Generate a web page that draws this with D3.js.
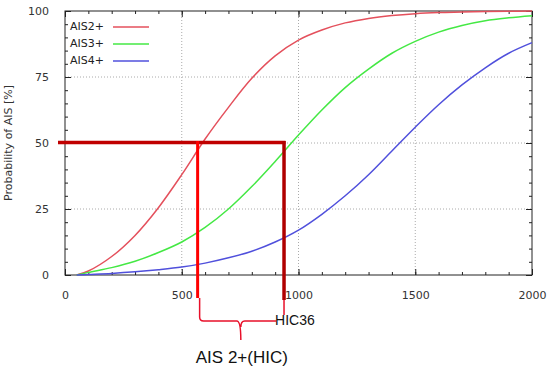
<!DOCTYPE html>
<html>
<head>
<meta charset="utf-8">
<script src="https://cdn.jsdelivr.net/npm/d3@7"></script>
<style>
  body { margin: 0; background: #fff; }
  text { font-family: "DejaVu Sans", sans-serif; }
</style>
</head>
<body>
<script>
// data
var hic = [0, 50, 100, 200, 300, 400, 500, 600, 700, 800, 900, 1000, 1100, 1200, 1300, 1400, 1500, 1600, 1700, 1800, 1900, 2000];
var ais2 = [0, 0, 1.5, 7, 15, 25.5, 38, 51.5, 63.5, 74.5, 83, 89, 92.8, 95.5, 97.2, 98.3, 99, 99.4, 99.6, 99.8, 99.9, 100];
var ais3 = [0, 0, 1, 2.8, 5.2, 8.5, 12.5, 18, 25, 33.5, 43, 53, 62.5, 71, 78, 84, 88.5, 92, 94.5, 96.3, 97.4, 98.2];
var ais4 = [0, 0, 0.2, 0.6, 1.2, 2, 3, 4.5, 6.5, 9, 12.5, 17, 23, 30, 38, 47, 56, 64.5, 72, 78.5, 84, 88];
var seriesNames = ["AIS2+", "AIS3+", "AIS4+"];
var xTicks = [0, 500, 1000, 1500, 2000];
var yTicks = [0, 25, 50, 75, 100];

// annotation values
var probLevel = 50;
var hicAis2 = 568;
var hicAis3 = 938;

// set the dimensions and margins of the graph
var margin = {top: 11, right: 15, bottom: 96, left: 65},
    width = 547 - margin.left - margin.right,
    height = 371 - margin.top - margin.bottom;

var svgRoot = d3.select("body")
  .append("svg")
    .attr("width", 547)
    .attr("height", 371);

var svg = svgRoot.append("g")
    .attr("transform", "translate(" + margin.left + "," + margin.top + ")");

var x = d3.scaleLinear().domain([0, 2000]).range([0, width]);
var y = d3.scaleLinear().domain([0, 100]).range([height, 0]);

var myColor = d3.scaleOrdinal()
  .domain(seriesNames)
  .range(["#e4505c", "#44e844", "#5050dc"]);

// grid
svg.append("g")
  .selectAll("line")
  .data(xTicks.slice(1, -1))
  .enter()
  .append("line")
    .attr("x1", function(d) { return x(d); })
    .attr("x2", function(d) { return x(d); })
    .attr("y1", 0)
    .attr("y2", height)
    .attr("stroke", "#aaa")
    .attr("stroke-dasharray", "1,2");
svg.append("g")
  .selectAll("line")
  .data(yTicks.slice(1, -1))
  .enter()
  .append("line")
    .attr("x1", 0)
    .attr("x2", width)
    .attr("y1", function(d) { return y(d); })
    .attr("y2", function(d) { return y(d); })
    .attr("stroke", "#aaa")
    .attr("stroke-dasharray", "1,2");

// axes, ticks pointing inwards, mirrored on all four sides
var xMinor = d3.range(0, 2001, 100);
var yMinor = d3.range(0, 101, 5);

function styleAxis(g) {
  g.select(".domain").remove();
  g.selectAll("line").attr("stroke", "#222");
  g.selectAll("text").attr("fill", "#333").style("font-size", "11px");
}

svg.append("g")
  .attr("transform", "translate(0," + height + ")")
  .call(d3.axisBottom(x).tickValues(xMinor).tickSize(-3).tickFormat(""))
  .call(styleAxis);
svg.append("g")
  .attr("transform", "translate(0," + height + ")")
  .call(d3.axisBottom(x).tickValues(xTicks).tickSize(-6).tickPadding(16).tickFormat(d3.format("d")))
  .call(styleAxis);
svg.append("g")
  .call(d3.axisTop(x).tickValues(xMinor).tickSize(-3).tickFormat(""))
  .call(styleAxis);
svg.append("g")
  .call(d3.axisTop(x).tickValues(xTicks).tickSize(-6).tickFormat(""))
  .call(styleAxis);

svg.append("g")
  .call(d3.axisLeft(y).tickValues(yMinor).tickSize(-3).tickFormat(""))
  .call(styleAxis);
svg.append("g")
  .call(d3.axisLeft(y).tickValues(yTicks).tickSize(-6).tickPadding(16).tickFormat(d3.format("d")))
  .call(styleAxis);
svg.append("g")
  .attr("transform", "translate(" + width + ",0)")
  .call(d3.axisRight(y).tickValues(yMinor).tickSize(-3).tickFormat(""))
  .call(styleAxis);
svg.append("g")
  .attr("transform", "translate(" + width + ",0)")
  .call(d3.axisRight(y).tickValues(yTicks).tickSize(-6).tickFormat(""))
  .call(styleAxis);

// frame
svg.append("rect")
  .attr("width", width)
  .attr("height", height)
  .attr("fill", "none")
  .attr("stroke", "#222");

// y title
svg.append("text")
  .attr("transform", "translate(-53," + (height / 2) + ") rotate(-90)")
  .attr("text-anchor", "middle")
  .attr("fill", "#333")
  .style("font-size", "11px")
  .text("Probability of AIS [%]");

// curves
var line = d3.line()
  .x(function(d) { return x(d[0]); })
  .y(function(d) { return y(d[1]); })
  .curve(d3.curveCatmullRom.alpha(0.5));

var allSeries = [ais2, ais3, ais4];
allSeries.forEach(function(vals, i) {
  var pts = hic.map(function(h, j) { return [h, vals[j]]; }).filter(function(p) { return p[0] >= 50; });
  svg.append("path")
    .datum(pts)
    .attr("fill", "none")
    .attr("stroke", myColor(seriesNames[i]))
    .attr("stroke-width", 1.5)
    .attr("d", line);
});

// legend
var size = 17;
svg.selectAll("mylabels")
  .data(seriesNames)
  .enter()
  .append("text")
    .attr("x", 5)
    .attr("y", function(d, i) { return 16 + i * size; })
    .attr("fill", "#222")
    .style("font-size", "11px")
    .style("dominant-baseline", "middle")
    .text(function(d) { return d; });
svg.selectAll("mylines")
  .data(seriesNames)
  .enter()
  .append("line")
    .attr("x1", 48)
    .attr("x2", 84)
    .attr("y1", function(d, i) { return 16 + i * size; })
    .attr("y2", function(d, i) { return 16 + i * size; })
    .attr("stroke", function(d) { return myColor(d); })
    .attr("stroke-width", 1.5);

// annotation: 50% level and HIC values
var yLevel = y(probLevel) - 0.5;
var xa = x(hicAis2), xb = x(hicAis3);

svg.append("line")
  .attr("x1", -7).attr("x2", xb + 1.5)
  .attr("y1", yLevel).attr("y2", yLevel)
  .attr("stroke", "#c00000")
  .attr("stroke-width", 3.5);
svg.append("line")
  .attr("x1", xa).attr("x2", xa)
  .attr("y1", yLevel - 1.5).attr("y2", 287)
  .attr("stroke", "#ff0000")
  .attr("stroke-width", 3);
svg.append("line")
  .attr("x1", xb).attr("x2", xb)
  .attr("y1", yLevel - 1.5).attr("y2", 289)
  .attr("stroke", "#b00000")
  .attr("stroke-width", 3.5);

// brace below the axis
var bTop = 287, bMid = 310, bTip = 329;
var xm = (xa + xb) / 2;
var brace = "M" + (xa + 2) + "," + bTop +
  " L" + (xa + 2) + "," + (bMid - 4) +
  " Q" + (xa + 2) + "," + bMid + " " + (xa + 6) + "," + bMid +
  " L" + (xm - 4) + "," + bMid +
  " Q" + xm + "," + bMid + " " + xm + "," + bTip +
  " M" + xm + "," + (bMid + 6) +
  " Q" + xm + "," + bMid + " " + (xm + 4) + "," + bMid +
  " L" + (xb - 8) + "," + bMid +
  " M" + xb + "," + 289 + " L" + xb + "," + 304;
svg.append("path")
  .attr("d", brace)
  .attr("fill", "none")
  .attr("stroke", "#e8102a")
  .attr("stroke-width", 1.5);

svg.append("text")
  .attr("x", xb - 9)
  .attr("y", 314)
  .style("font-family", "'Liberation Sans', Arial, sans-serif")
  .style("font-size", "14px")
  .attr("fill", "#111")
  .text("HIC36");

svg.append("text")
  .attr("x", xm + 1)
  .attr("y", 352)
  .attr("text-anchor", "middle")
  .style("font-family", "'Liberation Sans', Arial, sans-serif")
  .style("font-size", "17px")
  .attr("fill", "#111")
  .text("AIS 2+(HIC)");
</script>
</body>
</html>
